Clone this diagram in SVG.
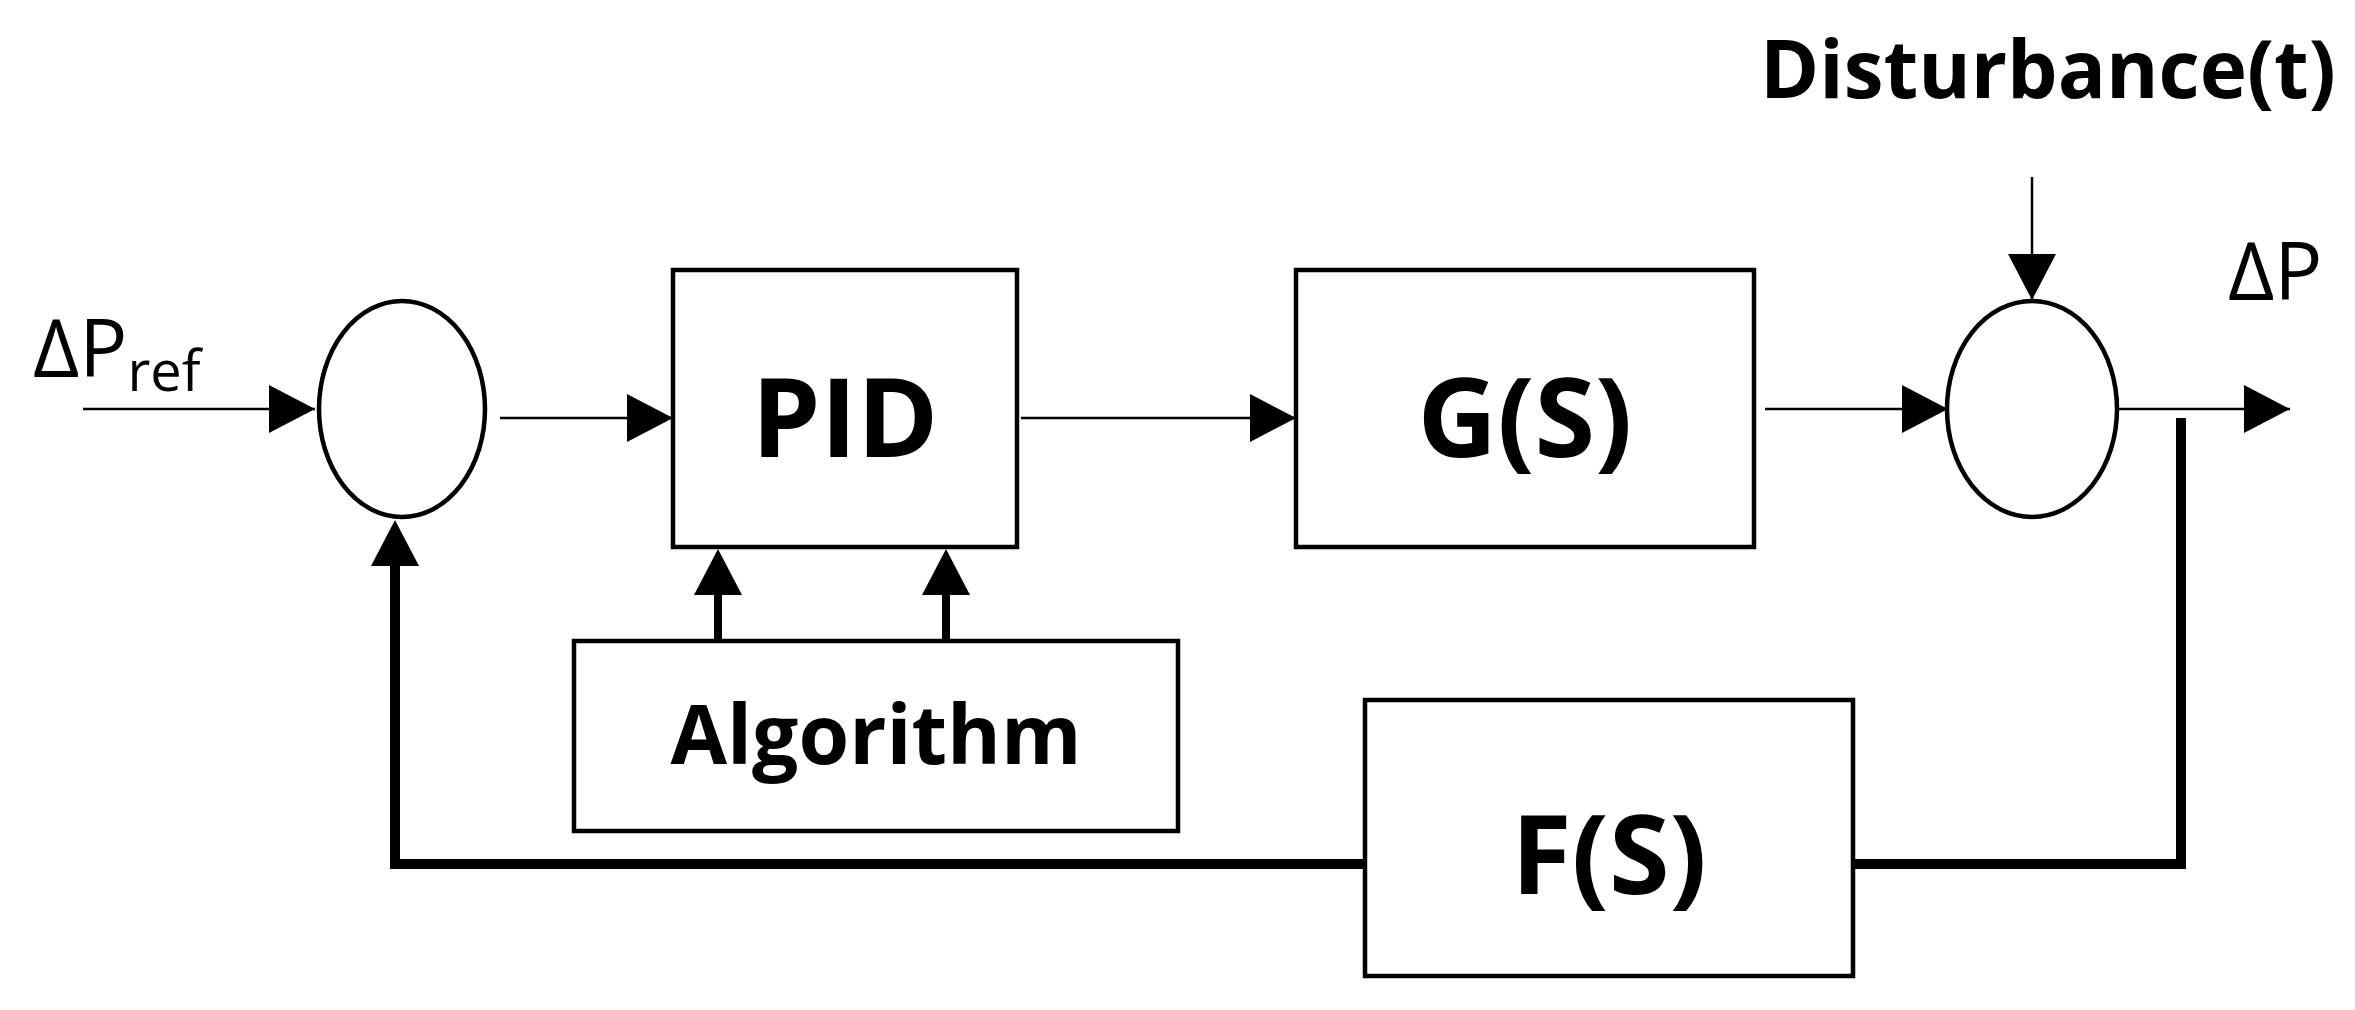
<svg xmlns="http://www.w3.org/2000/svg" width="2355" height="1010" viewBox="0 0 2355 1010">
<style>
.b{fill:#fff;stroke:#000;stroke-width:4.5}
.t{font-family:"Open Sans","Liberation Sans",sans-serif;font-weight:bold;text-anchor:middle;fill:#000}
.l{fill:none;stroke:#000;stroke-width:2.5}
.k{fill:none;stroke:#000;stroke-width:10}
</style>
<defs>
<marker id="a" markerUnits="userSpaceOnUse" markerWidth="46" markerHeight="48" refX="46" refY="24" orient="auto"><path d="M0,0L46,24L0,48Z" fill="#000"/></marker>
<marker id="b" markerUnits="userSpaceOnUse" markerWidth="46" markerHeight="48" refX="0" refY="24" orient="auto"><path d="M0,0L46,24L0,48Z" fill="#000"/></marker>
</defs>
<rect width="2355" height="1010" fill="#fff"/>
<g id="connectors">
<line class="l" x1="83" y1="409" x2="315" y2="409" marker-end="url(#a)"/>
<line class="l" x1="500" y1="418" x2="673" y2="418" marker-end="url(#a)"/>
<line class="l" x1="1021" y1="418" x2="1296" y2="418" marker-end="url(#a)"/>
<line class="l" x1="1765" y1="409" x2="1948" y2="409" marker-end="url(#a)"/>
<line class="l" x1="2118" y1="409" x2="2290" y2="409" marker-end="url(#a)"/>
<line class="l" x1="2032" y1="177" x2="2032" y2="300" marker-end="url(#a)"/>
<line x1="718" y1="641" x2="718" y2="595" stroke="#000" stroke-width="8" marker-end="url(#b)"/>
<line x1="946" y1="641" x2="946" y2="595" stroke="#000" stroke-width="8" marker-end="url(#b)"/>
<polyline class="k" points="2181,418 2181,864 1853,864"/>
<polyline class="k" points="1365,864 395,864 395,566" marker-end="url(#b)"/>
</g>
<g id="sum1"><ellipse class="b" cx="402" cy="409" rx="83" ry="108"/></g>
<g id="sum2"><ellipse class="b" cx="2032" cy="409" rx="85" ry="108"/></g>
<g id="pid"><rect class="b" x="673" y="270" width="344" height="277"/><text class="t" x="845" y="457" font-size="110">PID</text></g>
<g id="gs"><rect class="b" x="1296" y="270" width="458" height="277"/><text class="t" x="1525" y="457" font-size="110">G(S)</text></g>
<g id="algorithm"><rect class="b" x="574" y="641" width="604" height="190"/><text class="t" x="876" y="764" font-size="82">Algorithm</text></g>
<g id="fs"><rect class="b" x="1365" y="700" width="488" height="276"/><text class="t" x="1609" y="894" font-size="110">F(S)</text></g>
<g id="labels">
<text x="33" y="377" font-family="Open Sans,Liberation Sans,sans-serif" font-size="80">ΔP<tspan font-size="56" dy="14">ref</tspan></text>
<text x="2228" y="300" font-family="Open Sans,Liberation Sans,sans-serif" font-size="80">ΔP</text>
<text class="t" x="2048" y="98" font-size="80">Disturbance(t)</text>
</g>
</svg>
